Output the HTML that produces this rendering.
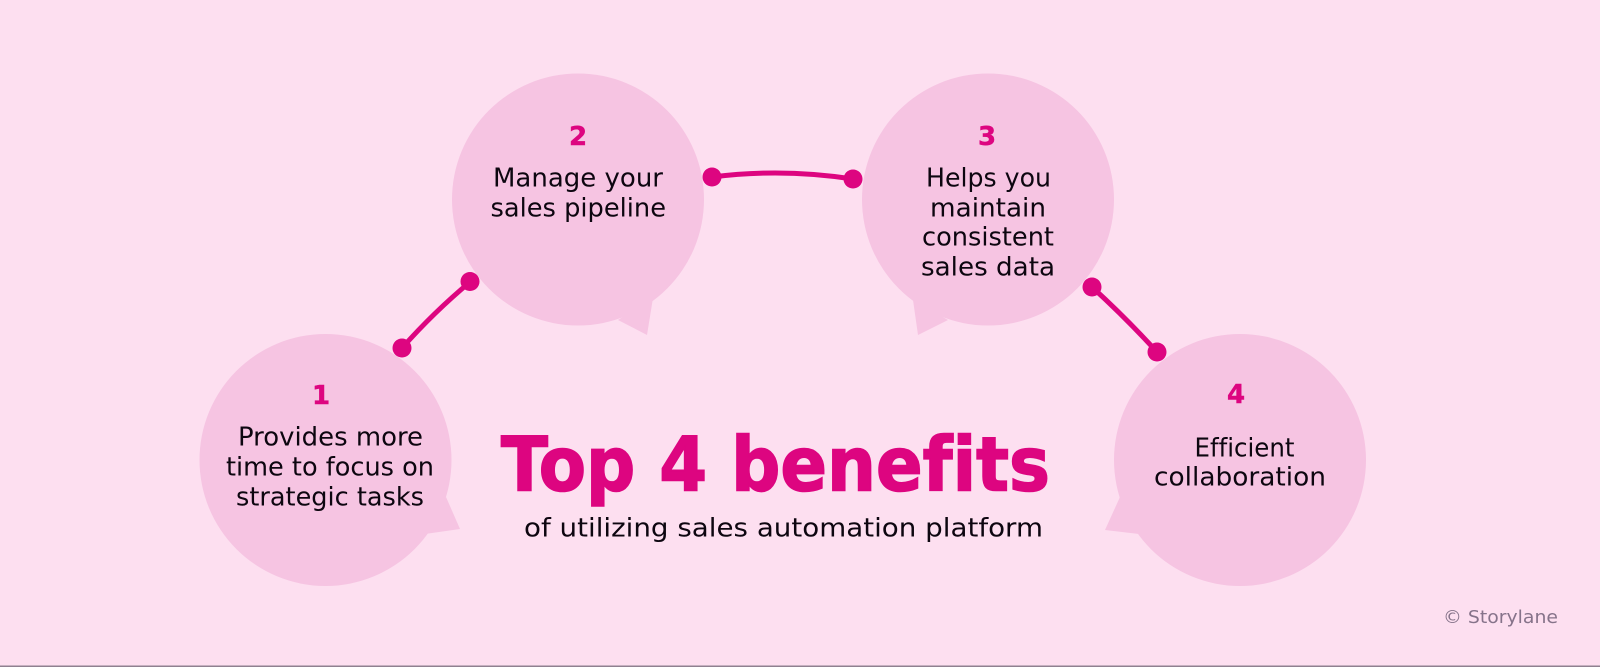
<!DOCTYPE html>
<html>
<head>
<meta charset="utf-8">
<style>
html,body{margin:0;padding:0;background:#fddff0;width:1600px;height:667px;overflow:hidden}
svg{display:block}
text{font-family:"DejaVu Sans","Liberation Sans",sans-serif;font-variant-ligatures:none}
.b{font-size:25.5px;fill:#0d0610}
.n{font-size:26px;font-weight:700;fill:#dd0580;stroke:#dd0580;stroke-width:.5px;text-anchor:middle}
</style>
</head>
<body>
<svg width="1600" height="667" viewBox="0 0 1600 667" xmlns="http://www.w3.org/2000/svg">
<rect width="1600" height="667" fill="#fddff0"/>
<rect y="665.5" width="1600" height="1.5" fill="#8f8090"/>

<g fill="#f6c4e2">
<circle cx="325.5" cy="460" r="126"/>
<polygon points="446,497 460,529 425,534"/>
<circle cx="578" cy="199.5" r="126"/>
<polygon points="618,320 647,335 653,298"/>
<circle cx="988" cy="199.5" r="126"/>
<polygon points="913,300 918,335 948,320"/>
<circle cx="1240" cy="460" r="126"/>
<polygon points="1120,497 1105,530 1139,534"/>
</g>

<g fill="none" stroke="#dd0580" stroke-width="5">
<path d="M402 348 Q434 312 470 282"/>
<path d="M712 177 Q782 168 853 179"/>
<path d="M1092 287 Q1126 318 1157 352"/>
</g>
<g fill="#dd0580">
<circle cx="402" cy="348" r="9.5"/>
<circle cx="470" cy="281.5" r="9.5"/>
<circle cx="712" cy="177" r="9.5"/>
<circle cx="853" cy="179" r="9.5"/>
<circle cx="1092" cy="287" r="9.5"/>
<circle cx="1157" cy="352" r="9.5"/>
</g>

<text class="n" x="321" y="404">1</text>
<text class="b" x="238" y="445.5" textLength="185" lengthAdjust="spacingAndGlyphs">Provides more</text>
<text class="b" x="226" y="475.5" textLength="208" lengthAdjust="spacingAndGlyphs">time to focus on</text>
<text class="b" x="236" y="505.5" textLength="188" lengthAdjust="spacingAndGlyphs">strategic tasks</text>

<text class="n" x="578" y="145">2</text>
<text class="b" x="493" y="186.5" textLength="170" lengthAdjust="spacingAndGlyphs">Manage your</text>
<text class="b" x="490.5" y="216.5" textLength="175.5" lengthAdjust="spacingAndGlyphs">sales pipeline</text>

<text class="n" x="987" y="145">3</text>
<text class="b" x="926" y="186.5" textLength="125" lengthAdjust="spacingAndGlyphs">Helps you</text>
<text class="b" x="930" y="216.5" textLength="116" lengthAdjust="spacingAndGlyphs">maintain</text>
<text class="b" x="922" y="245.5" textLength="132" lengthAdjust="spacingAndGlyphs">consistent</text>
<text class="b" x="921" y="275.5" textLength="134" lengthAdjust="spacingAndGlyphs">sales data</text>

<text class="n" x="1236" y="403">4</text>
<text class="b" x="1194.5" y="456.5" textLength="100" lengthAdjust="spacingAndGlyphs">Efficient</text>
<text class="b" x="1154" y="485.5" textLength="172" lengthAdjust="spacingAndGlyphs">collaboration</text>

<text x="501" y="490.5" font-size="75" font-weight="700" fill="#dd0580" stroke="#dd0580" stroke-width="1.6" textLength="549" lengthAdjust="spacingAndGlyphs">Top 4 benefits</text>
<text x="524" y="536.5" font-size="26" fill="#0d0610" textLength="519" lengthAdjust="spacingAndGlyphs">of utilizing sales automation platform</text>

<text x="1443" y="623" font-size="18" fill="#86738a" textLength="115" lengthAdjust="spacingAndGlyphs">© Storylane</text>
</svg>
</body>
</html>
